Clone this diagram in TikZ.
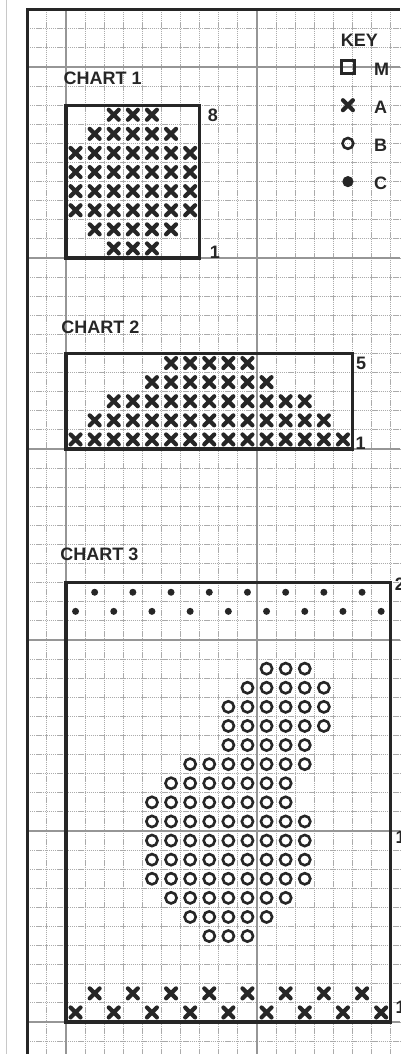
\documentclass[tikz,border=0pt]{standalone}
\usepackage{fontspec}
\setmainfont{Liberation Sans}
\definecolor{ink}{HTML}{262626}
\definecolor{minorc}{HTML}{ABABAB}
\definecolor{majorc}{HTML}{969696}
\definecolor{edgec}{HTML}{C8C8C8}
\begin{document}
\begin{tikzpicture}[x=19.1pt,y=-19.1pt,
  minorline/.style={minorc,line width=0.9pt,dash pattern=on 1.3pt off 0.8pt},
  majorline/.style={majorc,line width=1.9pt},
  frameline/.style={ink,line width=3pt},
  chartbox/.style={ink,line width=3.2pt},
  xs/.style={ink,line width=4.2pt,line cap=round},
  os/.style={ink,line width=2.6pt},
  lab/.style={font=\fontsize{18}{21}\selectfont\bfseries,text=ink,inner sep=0pt},
  xmark/.pic={\draw[xs] (-0.26,-0.26)--(0.26,0.26) (-0.26,0.26)--(0.26,-0.26);}
]
\useasboundingbox (-3.4555,-3.5079) rectangle (17.4869,51.6754);
% page edge
\draw[edgec,line width=1pt] (-3.09,-3.51) -- (-3.09,51.68);
% minor grid
\foreach \i in {-1,0,...,17} \draw[minorline] (\i,-3) -- (\i,51.68);
\foreach \j in {-2,-1,...,51} \draw[minorline] (-2,\j) -- (17.49,\j);
% major grid
\foreach \i in {0,10} \draw[majorline] (\i,-3) -- (\i,51.68);
\foreach \j in {0,10,20,30,40,50} \draw[majorline] (-2,\j) -- (17.49,\j);
% outer frame
\draw[frameline] (-2,51.68) -- (-2,-3) -- (17.49,-3);

% ---------- KEY ----------
\node[lab,anchor=base west] (key) at (14.38,-1.06) {KEY};
\coordinate (kM) at (14.76,0);
\coordinate (kA) at (14.76,2);
\coordinate (kB) at (14.76,4);
\coordinate (kC) at (14.76,6);
\draw[os,line width=2.7pt] ([shift={(-6.4pt,-6.4pt)}]kM) rectangle ([shift={(6.4pt,6.4pt)}]kM);
\pic at (kA) {xmark};
\draw[os] (kB) circle[radius=5.4pt];
\fill[ink] (kC) circle[radius=5.6pt];
\node[lab,anchor=west] (lM) at (16.12,0.1) {M};
\node[lab,anchor=west] (lA) at (16.12,2.1) {A};
\node[lab,anchor=west] (lB) at (16.12,4.1) {B};
\node[lab,anchor=west] (lC) at (16.12,6.1) {C};

% ---------- CHART 1 ----------
\node[lab,anchor=base west] (t1) at (-0.13,0.94) {CHART 1};
\foreach \r/\a/\b in {2/2/4,3/1/5,4/0/6,5/0/6,6/0/6,7/0/6,8/1/5,9/2/4}
  \foreach \c in {\a,...,\b} \pic at (\c+0.5,\r+0.5) {xmark};
\draw[chartbox] (0,2) rectangle (7,10);
\node[lab,anchor=west] (c1top) at ([xshift=8pt]7,2.55) {8};
\node[lab,anchor=base west] (c1bot) at ([xshift=10pt]7,10) {1};

% ---------- CHART 2 ----------
\node[lab,anchor=base west] (t2) at (-0.25,13.93) {CHART 2};
\foreach \r/\a/\b in {15/5/9,16/4/10,17/2/12,18/1/13,19/0/14}
  \foreach \c in {\a,...,\b} \pic at (\c+0.5,\r+0.5) {xmark};
\draw[chartbox] (0,15) rectangle (15,20);
\node[lab,anchor=west] (c2top) at ([xshift=3.5pt]15,15.5) {5};
\node[lab,anchor=base west] (c2bot) at ([xshift=3pt]15,20.05) {1};

% ---------- CHART 3 ----------
\node[lab,anchor=base west] (t3) at (-0.3,25.85) {CHART 3};
\foreach \c in {1,3,...,15} \fill[ink] (\c+0.5,27.5) circle[radius=3.5pt];
\foreach \c in {0,2,...,16} \fill[ink] (\c+0.5,28.5) circle[radius=3.5pt];
\foreach \r/\a/\b in {31/10/12,32/9/13,33/8/13,34/8/13,35/8/12,36/6/12,37/5/11,
  38/4/11,39/4/12,40/4/12,41/4/12,42/4/12,43/5/11,44/6/10,45/7/9}
  \foreach \c in {\a,...,\b} \draw[os] (\c+0.5,\r+0.5) circle[radius=5.6pt];
\foreach \c in {1,3,...,15} \pic at (\c+0.5,48.5) {xmark};
\foreach \c in {0,2,...,16} \pic at (\c+0.5,49.5) {xmark};
\draw[chartbox] (0,27) rectangle (17,50);
\node[lab,anchor=base west] (c3top) at ([xshift=4pt]17,27.4) {2};
\node[lab,anchor=base west] (c3mid) at ([xshift=4.8pt]17,40.63) {1};
\node[lab,anchor=base west] (c3bot) at ([xshift=4.8pt]17,49.53) {1};
\end{tikzpicture}
\end{document}
